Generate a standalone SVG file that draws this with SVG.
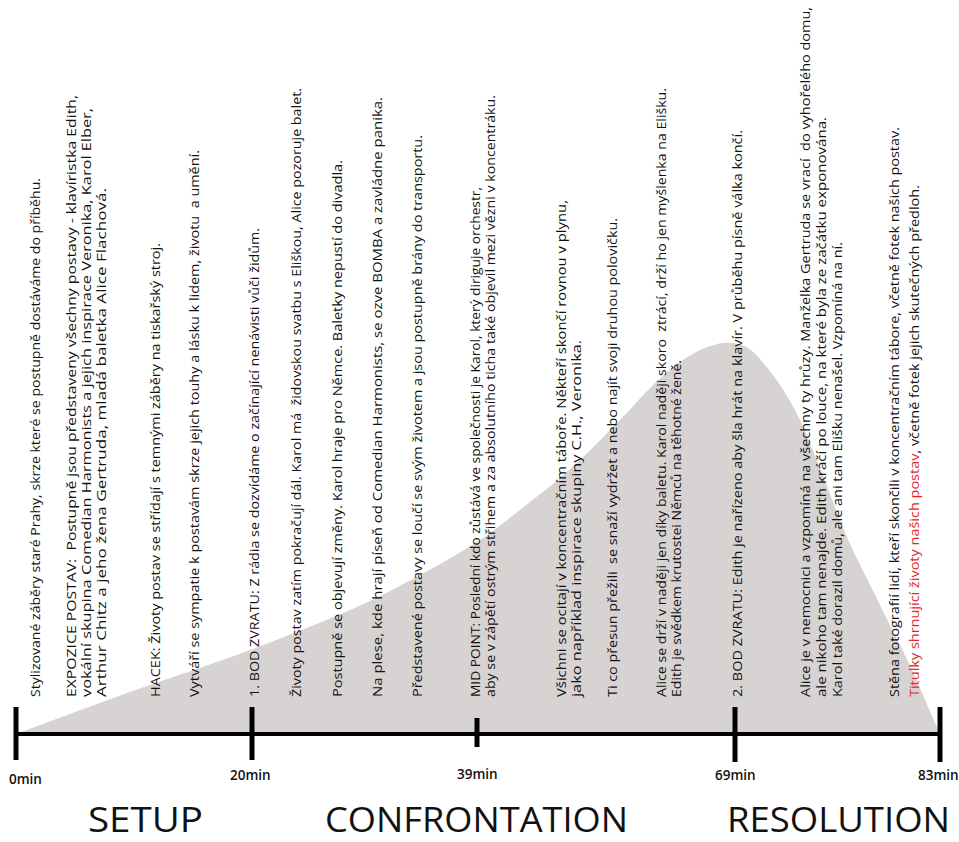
<svg xmlns="http://www.w3.org/2000/svg" width="959" height="842" viewBox="0 0 959 842">
<style>
.ev{font-family:"Open Sans","Noto Sans","DejaVu Sans",sans-serif;font-size:12.5px;fill:#111;white-space:pre}
.red{fill:#e3262b}
.lbl{font-family:"Open Sans","Noto Sans",sans-serif;font-size:13.5px;font-weight:600;fill:#111}
.ttl{font-family:"Open Sans","Noto Sans",sans-serif;font-size:35px;font-weight:400;fill:#111}
.axis{stroke:#000;stroke-width:4;fill:none}
.tick{stroke:#000;stroke-width:5;fill:none}
</style>
<rect width="959" height="842" fill="#fff"/>
<g id="curve">
<path fill="#d8d3d3" d="M16,734 C35,727 91,706 130,692 C169,678 213,664 250,650 C287,636 322,622 350,610 C378,598 398,587 420,575 C442,563 462,552 480,540 C498,528 513,515 530,502 C547,489 565,474 580,460 C595,446 608,432 620,420 C632,408 640,398 650,388 C660,378 670,369 680,362 C690,355 701,349 710,346 C719,343 725,342 732,343 C739,344 744,344 752,351 C760,358 772,373 780,385 C788,397 793,406 800,420 C807,434 812,449 820,468 C828,487 836,512 846,535 C856,558 869,582 880,605 C891,628 902,648 912,670 C922,692 935,723 940,734 Z"/>
</g>
<g id="connectors">
<line class="axis" x1="16" y1="734" x2="940" y2="734"/>
<line class="tick" x1="16" y1="707" x2="16" y2="760"/>
<line class="tick" x1="252" y1="707" x2="252" y2="760"/>
<line class="tick" x1="477" y1="718" x2="477" y2="747"/>
<line class="tick" x1="735" y1="707" x2="735" y2="762"/>
<line class="tick" x1="940" y1="707" x2="940" y2="762"/>
</g>
<g id="labels">
<text class="lbl" x="9" y="784">0min</text>
<text class="lbl" x="230" y="780">20min</text>
<text class="lbl" x="457" y="779">39min</text>
<text class="lbl" x="715" y="780">69min</text>
<text class="lbl" x="918" y="780">83min</text>
</g>
<g id="sections">
<text class="ttl" x="88" y="832" textLength="115" lengthAdjust="spacingAndGlyphs">SETUP</text>
<text class="ttl" x="325" y="832" textLength="303" lengthAdjust="spacingAndGlyphs">CONFRONTATION</text>
<text class="ttl" x="727" y="832" textLength="223" lengthAdjust="spacingAndGlyphs">RESOLUTION</text>
</g>
<g id="setup-events">
<g id="ev1" transform="translate(40,697) rotate(-90)"><text class="ev" textLength="519" lengthAdjust="spacingAndGlyphs">Stylizované záběry staré Prahy, skrze které se postupně dostáváme do příběhu.</text></g>
<g id="ev2" transform="translate(76,697) rotate(-90)"><text class="ev" textLength="602" lengthAdjust="spacingAndGlyphs">EXPOZICE POSTAV:  Postupně jsou představeny všechny postavy - klavíristka Edith,</text>
<text class="ev" y="15" textLength="589" lengthAdjust="spacingAndGlyphs">vokální skupina Comedian Harmonists a jejich inspirace Veronika, Karol Elber,</text>
<text class="ev" y="30" textLength="509" lengthAdjust="spacingAndGlyphs">Arthur Chitz a jeho žena Gertruda, mladá baletka Alice Flachová.</text></g>
<g id="ev3" transform="translate(160,697) rotate(-90)"><text class="ev" textLength="454" lengthAdjust="spacingAndGlyphs">HACEK: Životy postav se střídají s temnými záběry na tiskařský stroj.</text></g>
<g id="ev4" transform="translate(199,697) rotate(-90)"><text class="ev" textLength="547" lengthAdjust="spacingAndGlyphs">Vytváří se sympatie k postavám skrze jejich touhy a lásku k lidem, životu  a umění.</text></g>
</g>
<g id="confrontation-events">
<g id="ev5" transform="translate(259,697) rotate(-90)"><text class="ev" textLength="469" lengthAdjust="spacingAndGlyphs">1. BOD ZVRATU: Z rádia se dozvídáme o začínající nenávisti vůči židům.</text></g>
<g id="ev6" transform="translate(301,697) rotate(-90)"><text class="ev" textLength="609" lengthAdjust="spacingAndGlyphs">Životy postav zatím pokračují dál. Karol má  židovskou svatbu s Eliškou, Alice pozoruje balet.</text></g>
<g id="ev7" transform="translate(342,697) rotate(-90)"><text class="ev" textLength="537" lengthAdjust="spacingAndGlyphs">Postupně se objevují změny. Karol hraje pro Němce. Baletky nepustí do divadla.</text></g>
<g id="ev8" transform="translate(382,697) rotate(-90)"><text class="ev" textLength="600" lengthAdjust="spacingAndGlyphs">Na plese, kde hrají píseň od Comedian Harmonists, se ozve BOMBA a zavládne panika.</text></g>
<g id="ev9" transform="translate(422,697) rotate(-90)"><text class="ev" textLength="562" lengthAdjust="spacingAndGlyphs">Představené postavy se loučí se svým životem a jsou postupně brány do transportu.</text></g>
<g id="ev10" transform="translate(480,697) rotate(-90)"><text class="ev" textLength="510" lengthAdjust="spacingAndGlyphs">MID POINT: Poslední kdo zůstává ve společnosti je Karol, který diriguje orchestr,</text>
<text class="ev" y="15" textLength="602" lengthAdjust="spacingAndGlyphs">aby se v zápětí ostrým střihem a za absolutního ticha také objevil mezi vězni v koncentráku.</text></g>
<g id="ev11" transform="translate(566,697) rotate(-90)"><text class="ev" textLength="497" lengthAdjust="spacingAndGlyphs">Všichni se ocitají v koncentračním táboře. Někteří skončí rovnou v plynu,</text>
<text class="ev" y="15" textLength="357" lengthAdjust="spacingAndGlyphs">jako například inspirace skupiny C.H., Veronika.</text></g>
<g id="ev12" transform="translate(617,697) rotate(-90)"><text class="ev" textLength="479" lengthAdjust="spacingAndGlyphs">Ti co přesun přežili  se snaží vydržet a nebo najít svoji druhou polovičku.</text></g>
<g id="ev13" transform="translate(666,697) rotate(-90)"><text class="ev" textLength="609" lengthAdjust="spacingAndGlyphs">Alice se drží v naději jen díky baletu. Karol naději skoro  ztrácí, drží ho jen myšlenka na Elišku.</text>
<text class="ev" y="15" textLength="337" lengthAdjust="spacingAndGlyphs">Edith je svědkem krutostei Němců na těhotné ženě.</text></g>
</g>
<g id="resolution-events">
<g id="ev14" transform="translate(742,697) rotate(-90)"><text class="ev" textLength="567" lengthAdjust="spacingAndGlyphs">2. BOD ZVRATU: Edith je nařízeno aby šla hrát na klavír. V průběhu písně válka končí.</text></g>
<g id="ev15" transform="translate(810,697) rotate(-90)"><text class="ev" textLength="690" lengthAdjust="spacingAndGlyphs">Alice je v nemocnici a vzpomíná na všechny ty hrůzy. Manželka Gertruda se vrací  do vyhořelého domu,</text>
<text class="ev" y="16" textLength="580" lengthAdjust="spacingAndGlyphs">ale nikoho tam nenajde. Edith kráčí po louce, na které byla ze začátku exponována.</text>
<text class="ev" y="32" textLength="455" lengthAdjust="spacingAndGlyphs">Karol také dorazil domů, ale ani tam Elišku nenašel. Vzpomíná na ní.</text></g>
<g id="ev16" transform="translate(899,697) rotate(-90)"><text class="ev" textLength="570" lengthAdjust="spacingAndGlyphs">Stěna fotografií lidí, kteří skončili v koncentračním tábore, včetně fotek našich postav.</text></g>
<g id="ev17" transform="translate(919,697) rotate(-90)"><text class="ev" textLength="512" lengthAdjust="spacingAndGlyphs"><tspan class="red">Titulky shrnující životy našich postav</tspan>, včetně fotek jejich skutečných předloh.</text></g>
</g>
</svg>
